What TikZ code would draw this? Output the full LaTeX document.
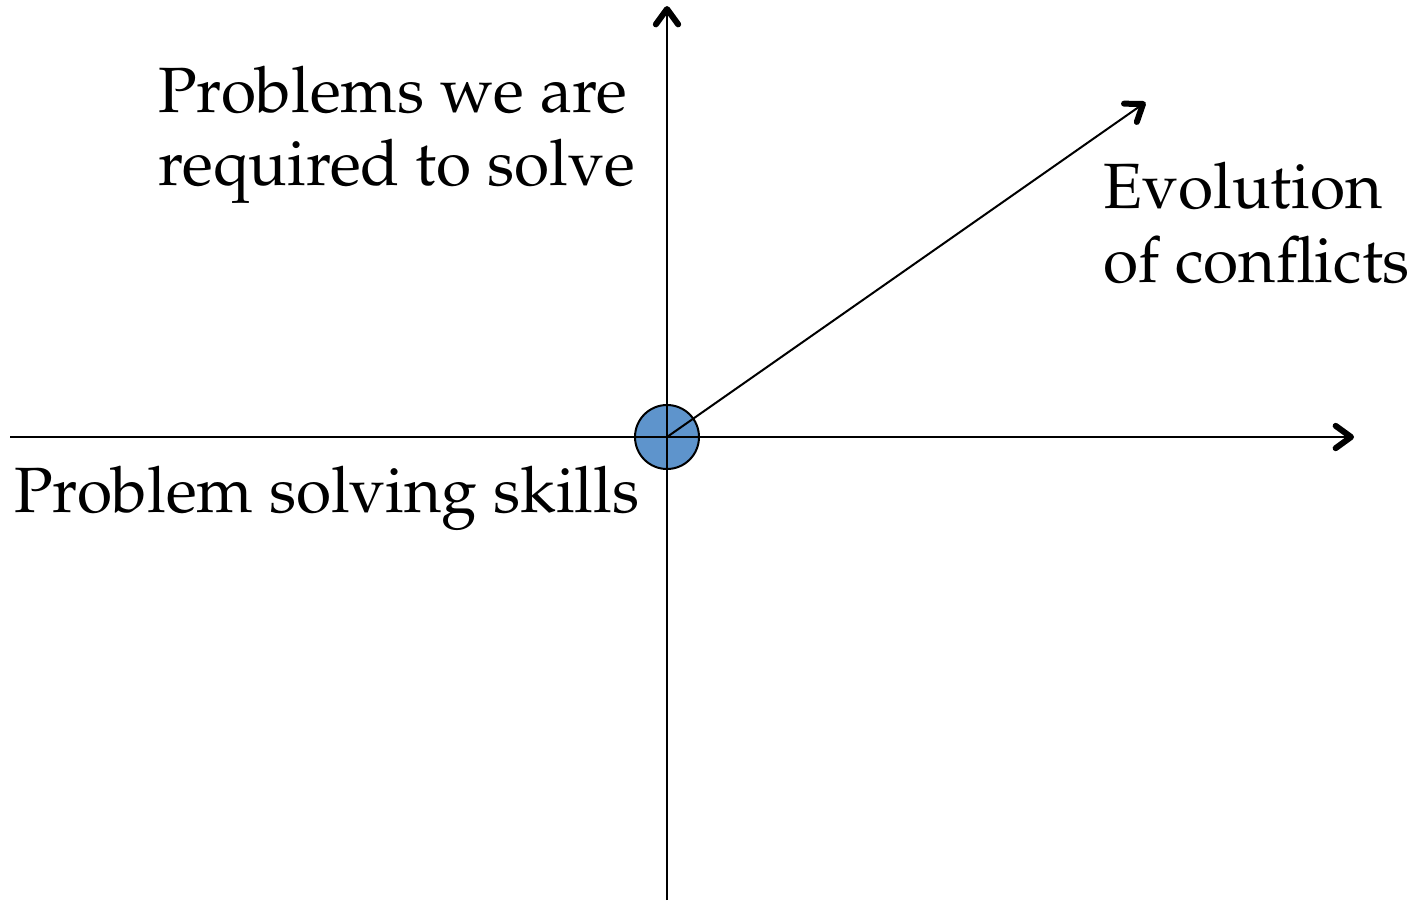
\documentclass[tikz,border=0pt]{standalone}
\IfFileExists{mathpazo.sty}{\usepackage[T1]{fontenc}\usepackage{mathpazo}}{\usepackage{fontspec}\setmainfont{Liberation Serif}}
\usetikzlibrary{calc}
\definecolor{dotblue}{RGB}{94,148,204}
\begin{document}
\begin{tikzpicture}[x=1pt,y=-1pt,
  axis/.style={line width=2pt},
  barb/.style={line width=6pt,line cap=round,line join=round},
  lbl/.style={anchor=base west,inner sep=0pt,font=\fontsize{64}{77}\selectfont}]
\useasboundingbox (0,0) rectangle (1421,900);
\node[circle,draw,line width=2pt,fill=dotblue,minimum size=64pt,inner sep=0pt] (o) at (667,437) {};
\coordinate (xl) at (10,437);
\coordinate (xr) at (1351,437);
\coordinate (yb) at (667,900);
\coordinate (yt) at (667,9);
\coordinate (dg) at (1143,104);
\draw[axis] (xl) -- (xr);
\draw[axis] (yb) -- (yt);
\draw[axis] (o.center) -- (dg);
\foreach \t/\f in {xr/xl, yt/yb, dg/o.center}
  \draw[barb] ($(\t)!19pt!36:(\f)$) -- (\t) -- ($(\t)!19pt!-36:(\f)$);
\node[lbl] (p1) at (158,112) {Problems we are};
\node[lbl] (p2) at (158,185) {required to solve};
\node[lbl] (e1) at (1103,208) {Evolution};
\node[lbl] (e2) at (1103,282) {of conflicts};
\node[lbl] (s) at (14,512) {Problem solving skills};
\end{tikzpicture}
\end{document}
